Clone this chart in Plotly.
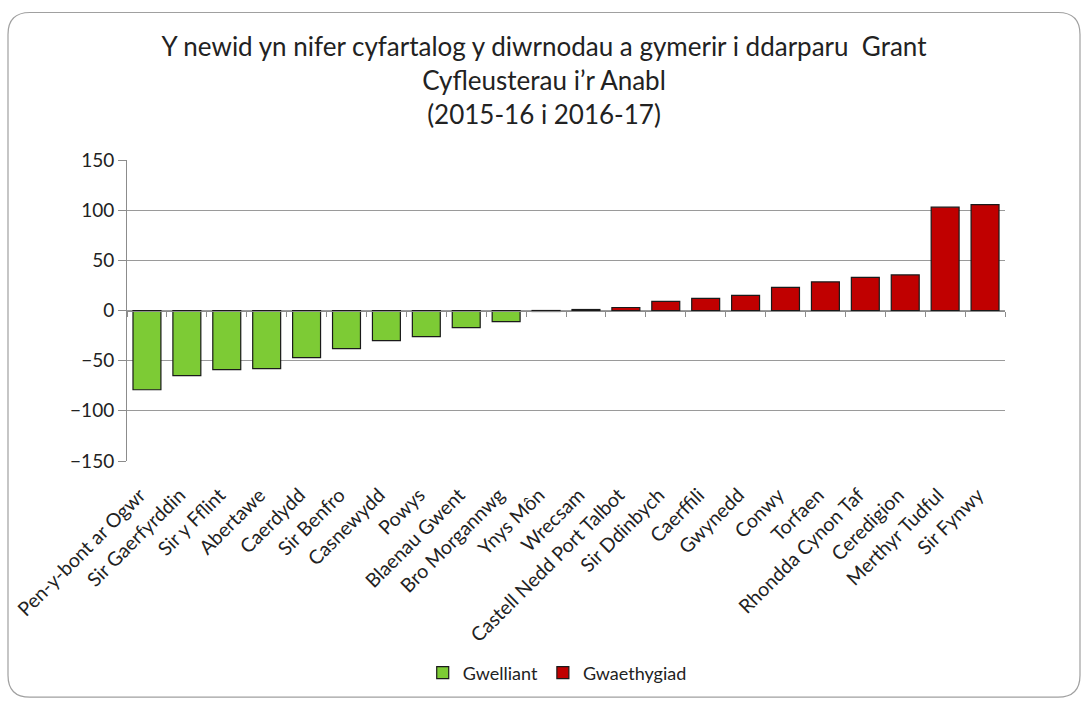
import plotly.graph_objects as go

categories = ["Pen-y-bont ar Ogwr", "Sir Gaerfyrddin", "Sir y Fflint", "Abertawe", "Caerdydd",
              "Sir Benfro", "Casnewydd", "Powys", "Blaenau Gwent", "Bro Morgannwg", "Ynys Môn",
              "Wrecsam", "Castell Nedd Port Talbot", "Sir Ddinbych", "Caerffili", "Gwynedd",
              "Conwy", "Torfaen", "Rhondda Cynon Taf", "Ceredigion", "Merthyr Tudful", "Sir Fynwy"]
gwelliant = [-79, -65, -59, -58, -47, -38, -30, -26, -17, -11, -1,
             None, None, None, None, None, None, None, None, None, None, None]
gwaethygiad = [None, None, None, None, None, None, None, None, None, None, None,
               1, 3, 9, 12, 15, 23, 28.5, 33, 35.5, 103, 105.5]
y_ticks = [-150, -100, -50, 0, 50, 100, 150]

W, H = 1088, 702
L, R, T, B = 127, 83, 160, 240
FONT = "Lato, 'Open Sans', sans-serif"
n = len(categories)

fig = go.Figure()
fig.add_trace(go.Bar(x=categories, y=gwelliant, name="Gwelliant",
                     marker=dict(color="#7DCB35", line=dict(color="#1a1a1a", width=1.2))))
fig.add_trace(go.Bar(x=categories, y=gwaethygiad, name="Gwaethygiad",
                     marker=dict(color="#C00000", line=dict(color="#1a1a1a", width=1.2))))
# invisible trace to carry the tick-mark axis at zero
fig.add_trace(go.Scatter(x=categories, y=[0] * n, xaxis="x2", mode="markers",
                         marker=dict(opacity=0, size=1), showlegend=False, hoverinfo="skip"))

pw, ph = W - L - R, H - T - B
def px(x):
    return (x - L) / pw
def py(y):
    return (H - B - y) / ph
x0, x1, y0, y1, r = 8, 1080, 12, 699, 22
path = (f"M {px(x0 + r)},{py(y0)} L {px(x1 - r)},{py(y0)} Q {px(x1)},{py(y0)} {px(x1)},{py(y0 + r)} "
        f"L {px(x1)},{py(y1 - r)} Q {px(x1)},{py(y1)} {px(x1 - r)},{py(y1)} "
        f"L {px(x0 + r)},{py(y1)} Q {px(x0)},{py(y1)} {px(x0)},{py(y1 - r)} "
        f"L {px(x0)},{py(y0 + r)} Q {px(x0)},{py(y0)} {px(x0 + r)},{py(y0)} Z")

fig.update_layout(
    width=W, height=H,
    margin=dict(l=L, r=R, t=T, b=B),
    paper_bgcolor="white", plot_bgcolor="white",
    barmode="relative", bargap=0.3,
    font=dict(family=FONT, color="#222222", size=16),
    title=dict(text="Y newid yn nifer cyfartalog y diwrnodau a gymerir i ddarparu  Grant<br>Cyfleusterau i’r Anabl<br>(2015-16 i 2016-17)",
               x=0.5, xanchor="center", xref="container", y=1 - 56 / 702, yanchor="middle", yref="container",
               font=dict(family=FONT, size=26, color="#222222")),
    xaxis=dict(showline=False, ticks="", tickangle=-45, showgrid=False, range=[-0.5, n - 0.5],
               ticklabelstandoff=18, ticklabelshift=-7,
               tickfont=dict(size=19.5, color="#222222")),
    xaxis2=dict(overlaying="x", matches="x", anchor="free", position=0.5, side="bottom",
                showticklabels=False, ticks="outside", tickson="boundaries", ticklen=5,
                tickcolor="#8c8c8c", showline=True, linecolor="#8c8c8c", linewidth=1, showgrid=False),
    yaxis=dict(range=[-150, 150], tickvals=y_ticks, showgrid=True, gridcolor="#9a9a9a", gridwidth=1,
               zeroline=False, showline=True, linecolor="#8c8c8c", linewidth=1,
               ticks="outside", ticklen=8, tickcolor="#8c8c8c",
               tickfont=dict(size=19, color="#222222")),
    legend=dict(orientation="h", x=0.49, xanchor="center", y=(H - B - 673) / ph, yanchor="middle",
                bgcolor="rgba(0,0,0,0)",
                font=dict(size=18, color="#222222"), traceorder="normal"),
    shapes=[dict(type="path", xref="paper", yref="paper", path=path,
                 line=dict(color="#a0a0a0", width=1.2), layer="below")],
)

fig.write_html("out.html", post_script="document.body.style.margin='0';",
               config={"displayModeBar": False})
